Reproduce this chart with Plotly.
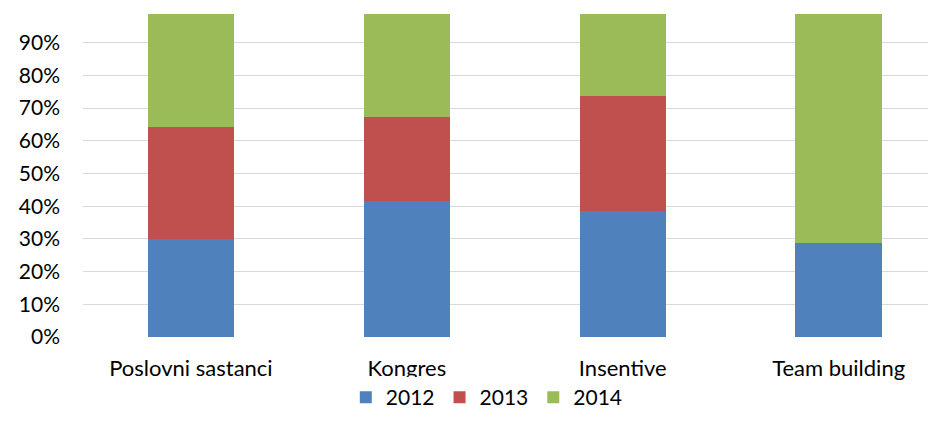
import plotly.graph_objects as go

categories = ["Poslovni sastanci", "Kongres", "Insentive", "Team building"]
years = ["2012", "2013", "2014"]
v2012 = [30.1, 41.7, 38.4, 28.6]
v2013 = [34.1, 25.6, 35.3, 0.0]
v2014 = [35.8, 32.7, 26.3, 71.4]
series = [v2012, v2013, v2014]
colors = ["#4F81BD", "#C0504D", "#9BBB59"]
ytick_vals = [0, 10, 20, 30, 40, 50, 60, 70, 80, 90, 100]
ytick_text = [f"{v}%" for v in ytick_vals]

fig = go.Figure()
for name, vals, col in zip(years, series, colors):
    fig.add_trace(go.Bar(
        x=categories, y=vals, name=name,
        marker=dict(color=col, line=dict(width=0)),
        width=0.4,
    ))

font_family = "Lato, 'Open Sans', sans-serif"
fig.update_layout(
    width=936, height=430,
    barmode="stack",
    paper_bgcolor="white", plot_bgcolor="white",
    margin=dict(l=75, r=0, t=2, b=101, autoexpand=False),
    font=dict(family=font_family, size=21, color="#000000"),
    showlegend=True,
    legend=dict(orientation="h", x=0.469, xanchor="center", y=-0.185, yanchor="middle",
                font=dict(size=21), traceorder="normal"),
    xaxis=dict(range=[-0.5, 3.488], showgrid=False, showline=False, zeroline=False,
               ticks="", ticklabelstandoff=16, automargin=False,
               tickfont=dict(size=22)),
    yaxis=dict(range=[0, 100], tickvals=ytick_vals, ticktext=ytick_text,
               showgrid=True, gridcolor="#D9D9D9", gridwidth=1, zeroline=False,
               showline=False, ticks="", ticklabelstandoff=22, automargin=False),
    shapes=[dict(type="rect", xref="paper", yref="paper", x0=-0.2, x1=1.02,
                 y0=0.9878, y1=1.1, fillcolor="white", line=dict(width=0), layer="above")],
)

fig.write_html("out.html")
